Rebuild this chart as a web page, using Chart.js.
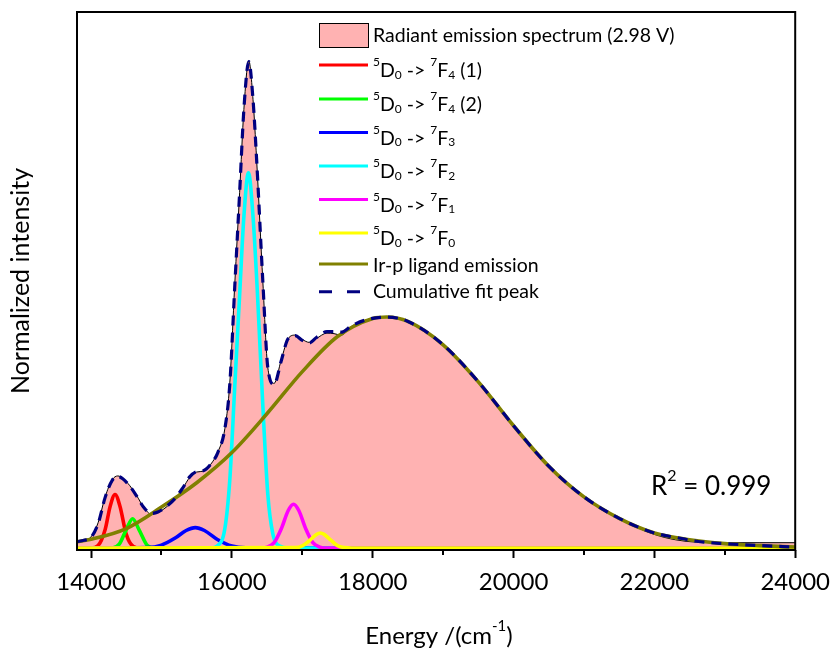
<!DOCTYPE html>
<html>
<head>
<meta charset="utf-8">
<script src="https://cdn.jsdelivr.net/npm/chart.js@4.4.1/dist/chart.umd.min.js"></script>
<style>
  html, body { margin: 0; padding: 0; background: #fff; }
  #wrap { width: 840px; height: 655px; }
</style>
</head>
<body>
<div id="wrap"><canvas id="fitChart" width="840" height="655"></canvas></div>
<script>
// x ticks (energy, cm-1)
var majorTicks = [14000, 16000, 18000, 20000, 22000, 24000];
var minorTicks = [15000, 17000, 19000, 21000, 23000];

// measured spectrum (normalized)
var specX = [13800, 13900, 14000, 14100, 14200, 14300, 14380, 14450, 14550, 14650, 14750, 14850, 14950, 15050, 15200, 15300, 15400, 15500, 15600, 15700, 15800, 15900, 15970, 16040, 16110, 16170, 16240, 16300, 16350, 16440, 16510, 16600, 16700, 16800, 16900, 17000, 17100, 17200, 17350, 17450, 17550, 17700, 17900, 18200, 18500, 19000, 19500, 20000, 20500, 21000, 21500, 22000, 22300, 22600, 23000, 23500, 24000];
var specY = [0.015, 0.017, 0.023, 0.052, 0.105, 0.140, 0.148, 0.143, 0.128, 0.107, 0.083, 0.070, 0.073, 0.082, 0.102, 0.122, 0.145, 0.156, 0.158, 0.172, 0.197, 0.245, 0.339, 0.540, 0.730, 0.900, 1.000, 0.920, 0.800, 0.545, 0.370, 0.338, 0.386, 0.430, 0.437, 0.428, 0.422, 0.430, 0.441, 0.440, 0.437, 0.455, 0.468, 0.475, 0.466, 0.418, 0.342, 0.251, 0.168, 0.104, 0.060, 0.028, 0.017, 0.012, 0.011, 0.011, 0.011];

// fitted components
var redX = [13800, 14000, 14100, 14200, 14270, 14340, 14410, 14500, 14600, 14700, 24000];
var redY = [0, 0, 0.005, 0.038, 0.085, 0.110, 0.086, 0.028, 0.003, 0, 0];

var greenX = [13800, 14300, 14400, 14500, 14590, 14680, 14800, 14900, 24000];
var greenY = [0, 0, 0.008, 0.038, 0.060, 0.038, 0.005, 0, 0];

var blueX = [13800, 14800, 15000, 15200, 15350, 15480, 15610, 15800, 16000, 16200, 24000];
var blueY = [0, 0.001, 0.006, 0.021, 0.036, 0.042, 0.036, 0.017, 0.004, 0.0005, 0];

var cyanX = [13800, 15700, 15800, 15900, 15970, 16040, 16110, 16170, 16235, 16300, 16360, 16440, 16510, 16580, 16680, 16800, 24000];
var cyanY = [0, 0, 0.005, 0.040, 0.140, 0.330, 0.520, 0.680, 0.770, 0.680, 0.530, 0.290, 0.110, 0.030, 0.004, 0, 0];

var magX = [13800, 16400, 16500, 16600, 16700, 16800, 16875, 16950, 17050, 17150, 17250, 17350, 24000];
var magY = [0, 0, 0.002, 0.011, 0.039, 0.077, 0.090, 0.077, 0.039, 0.011, 0.002, 0, 0];

var yelX = [13800, 16900, 17000, 17100, 17200, 17256, 17310, 17400, 17500, 17600, 17700, 24000];
var yelY = [0, 0.001, 0.0045, 0.015, 0.028, 0.031, 0.028, 0.017, 0.005, 0.001, 0, 0];

var ligX = [13800, 14000, 14500, 15000, 15500, 16000, 16500, 17000, 17500, 18000, 18200, 18500, 19000, 19500, 20000, 20500, 21000, 21500, 22000, 22500, 23000, 23500, 24000];
var ligY = [0.013, 0.018, 0.040, 0.084, 0.134, 0.196, 0.276, 0.362, 0.434, 0.471, 0.474, 0.465, 0.417, 0.341, 0.251, 0.168, 0.105, 0.061, 0.031, 0.017, 0.009, 0.005, 0.002];

var fitX = specX;
var fitY = [0.013, 0.016, 0.022, 0.050, 0.104, 0.139, 0.147, 0.142, 0.127, 0.106, 0.083, 0.071, 0.074, 0.083, 0.103, 0.123, 0.146, 0.157, 0.159, 0.172, 0.196, 0.245, 0.336, 0.535, 0.730, 0.900, 0.998, 0.920, 0.800, 0.545, 0.370, 0.336, 0.384, 0.430, 0.436, 0.426, 0.421, 0.432, 0.444, 0.444, 0.443, 0.456, 0.468, 0.474, 0.465, 0.417, 0.341, 0.251, 0.168, 0.105, 0.061, 0.031, 0.022, 0.014, 0.009, 0.005, 0.002];

var rSquared = 'R² = 0.999';

function pts(xs, ys) {
    return xs.map(function (x, i) { return { x: x, y: ys[i] }; });
}

// small helper so ⁵ ₀ ⁻¹ etc. come out as real raised/lowered digits
var SUP = '⁰¹²³⁴⁵⁶⁷⁸⁹⁻', SUB = '₀₁₂₃₄₅₆₇₈₉', PLAIN = '0123456789-';
function drawRich(ctx, text, x, y, size, align) {
    var runs = [];
    for (var ch of text) {
        var kind = 'n', c = ch, i = SUP.indexOf(ch);
        if (i >= 0) { kind = 'sup'; c = PLAIN[i]; }
        else if ((i = SUB.indexOf(ch)) >= 0) { kind = 'sub'; c = PLAIN[i]; }
        var last = runs[runs.length - 1];
        if (last && last.kind === kind) last.text += c; else runs.push({ kind: kind, text: c });
    }
    var total = 0;
    runs.forEach(function (r) {
        r.font = (r.kind === 'n' ? size : Math.round(size * 0.62)) + 'px Lato';
        ctx.font = r.font;
        r.w = ctx.measureText(r.text).width;
        total += r.w;
    });
    if (align === 'center') x -= total / 2;
    ctx.textAlign = 'left';
    ctx.textBaseline = 'alphabetic';
    ctx.fillStyle = '#000';
    runs.forEach(function (r) {
        var dy = r.kind === 'sup' ? -size * 0.55 : (r.kind === 'sub' ? size * 0.1 : 0);
        ctx.font = r.font;
        ctx.fillText(r.text, x, y + dy);
        x += r.w;
    });
}

var extras = {
    id: 'extras',
    afterDatasetsDraw: function (chart) {
        var ctx = chart.ctx, a = chart.chartArea, xs = chart.scales.x;
        ctx.save();
        // box
        ctx.strokeStyle = '#000';
        ctx.lineWidth = 2;
        ctx.strokeRect(a.left, a.top, a.right - a.left, a.bottom - a.top);
        // minor ticks
        ctx.beginPath();
        minorTicks.forEach(function (v) {
            var px = Math.round(xs.getPixelForValue(v));
            ctx.moveTo(px, a.bottom);
            ctx.lineTo(px, a.bottom + 5);
        });
        ctx.stroke();

        // legend
        var rowY = [35, 65, 99, 132.5, 166, 199.5, 233, 264, 291.7];
        var baseOff = [6.7, 12, 12, 12, 12, 12, 12, 8, 6.5];
        var lx = 319, lw = 49, tx = 373;
        chart.data.datasets.forEach(function (ds, i) {
            var y = rowY[i];
            if (i === 0) {
                ctx.fillStyle = ds.backgroundColor;
                ctx.fillRect(lx, 23, lw, 24);
                ctx.lineWidth = 1;
                ctx.strokeStyle = '#000';
                ctx.strokeRect(lx + 0.5, 23.5, lw, 24);
            } else {
                ctx.strokeStyle = ds.borderColor;
                ctx.lineWidth = 3;
                ctx.setLineDash(ds.borderDash ? [13, 15] : []);
                ctx.beginPath();
                ctx.moveTo(lx, y);
                ctx.lineTo(lx + lw, y);
                ctx.stroke();
                ctx.setLineDash([]);
            }
            drawRich(ctx, ds.label, tx, y + baseOff[i], 19.5);
        });

        drawRich(ctx, rSquared, 651, 495, 26);
        drawRich(ctx, 'Energy /(cm⁻¹)', 439, 644, 24, 'center');
        ctx.restore();
    }
};

var chart = new Chart(document.getElementById('fitChart').getContext('2d'), {
    type: 'line',
    data: {
        datasets: [{
            label: 'Radiant emission spectrum (2.98 V)',
            data: pts(specX, specY),
            borderColor: '#000000',
            borderWidth: 1,
            backgroundColor: '#ffb2b2',
            fill: 'start',
            order: 8
        }, {
            label: '⁵D₀ -> ⁷F₄ (1)',
            data: pts(redX, redY),
            borderColor: '#ff0000',
            order: 7
        }, {
            label: '⁵D₀ -> ⁷F₄ (2)',
            data: pts(greenX, greenY),
            borderColor: '#00ff00',
            order: 6
        }, {
            label: '⁵D₀ -> ⁷F₃',
            data: pts(blueX, blueY),
            borderColor: '#0000ff',
            order: 5
        }, {
            label: '⁵D₀ -> ⁷F₂',
            data: pts(cyanX, cyanY),
            borderColor: '#00ffff',
            order: 4
        }, {
            label: '⁵D₀ -> ⁷F₁',
            data: pts(magX, magY),
            borderColor: '#ff00ff',
            order: 3
        }, {
            label: '⁵D₀ -> ⁷F₀',
            data: pts(yelX, yelY),
            borderColor: '#ffff00',
            order: 2
        }, {
            label: 'Ir-p ligand emission',
            data: pts(ligX, ligY),
            borderColor: '#808000',
            order: 1
        }, {
            label: 'Cumulative fit peak',
            data: pts(fitX, fitY),
            borderColor: '#000080',
            borderWidth: 3.2,
            borderDash: [10, 7],
            order: 0
        }]
    },
    options: {
        responsive: false,
        animation: false,
        layout: { padding: { top: 12, right: 38, left: 0, bottom: 0 } },
        elements: {
            point: { radius: 0 },
            line: { borderWidth: 3.6, fill: false, cubicInterpolationMode: 'monotone' }
        },
        plugins: {
            legend: { display: false },
            tooltip: { enabled: false }
        },
        scales: {
            x: {
                type: 'linear',
                min: 13800,
                max: 24000,
                afterBuildTicks: function (s) { s.ticks = majorTicks.map(function (v) { return { value: v }; }); },
                afterFit: function (s) { s.height = 105; },
                ticks: {
                    color: '#000',
                    font: { family: 'Lato', size: 24 },
                    padding: 10,
                    maxRotation: 0,
                    autoSkip: false,
                    callback: function (v) { return String(v); }
                },
                grid: { display: true, drawOnChartArea: false, drawTicks: true, tickLength: 8, tickWidth: 2, tickColor: '#000' },
                border: { display: false }
            },
            y: {
                min: -0.004,
                max: 1.10,
                afterFit: function (s) { s.width = 77; },
                ticks: { display: false },
                grid: { display: false },
                border: { display: false },
                title: {
                    display: true,
                    text: 'Normalized intensity',
                    color: '#000',
                    font: { family: 'Lato', size: 25 },
                    padding: { top: 6, bottom: 0 }
                }
            }
        }
    },
    plugins: [extras]
});
</script>
</body>
</html>
